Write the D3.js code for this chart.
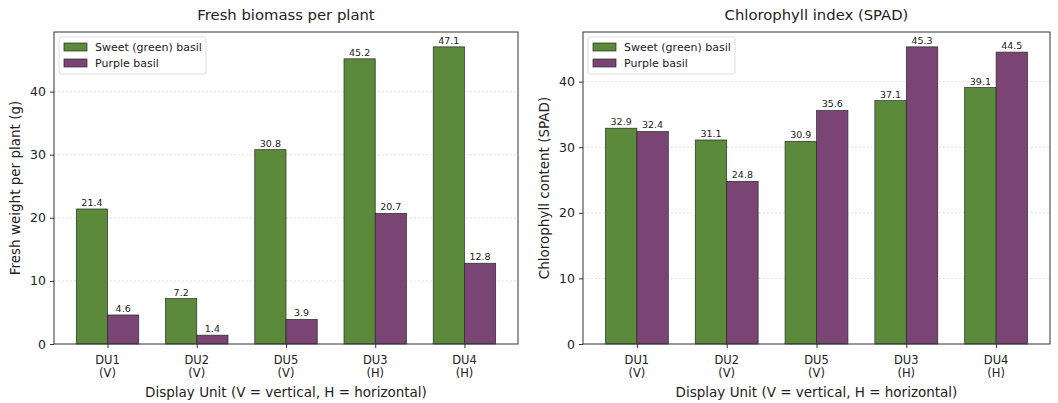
<!DOCTYPE html>
<html>
<head>
<script src="https://d3js.org/d3.v7.min.js"></script>
<style>
  body { margin: 0; background: #fff; }
  text { font-family: "DejaVu Sans", sans-serif; fill: #222; }
</style>
</head>
<body>
<script>
// categories and series
var units = ["DU1", "DU2", "DU5", "DU3", "DU4"];
var orient = ["(V)", "(V)", "(V)", "(H)", "(H)"];
var seriesNames = ["Sweet (green) basil", "Purple basil"];
var seriesColors = ["#5a8a3a", "#7a4474"];

var biomassGreen = [21.4, 7.2, 30.8, 45.2, 47.1];
var biomassPurple = [4.6, 1.4, 3.9, 20.7, 12.8];
var spadGreen = [32.9, 31.1, 30.9, 37.1, 39.1];
var spadPurple = [32.4, 24.8, 35.6, 45.3, 44.5];

var biomassTicks = [0, 10, 20, 30, 40];
var spadTicks = [0, 10, 20, 30, 40];

var width = 1058, height = 403;
var svg = d3.select("body").append("svg").attr("width", width).attr("height", height);

function panel(opts) {
  var left = opts.left, right = opts.right, top = 32, bottom = 344;
  var g = svg.append("g");

  var x = d3.scaleLinear().domain([-0.6, 4.6]).range([left, right]);
  var ymax = d3.max(opts.a.concat(opts.b)) * 1.05;
  var y = d3.scaleLinear().domain([0, ymax]).range([bottom, top]);
  var bw = 0.35;

  // grid
  g.selectAll(".grid").data(opts.ticks.filter(function(d) { return d > 0; }))
    .enter().append("line")
    .attr("x1", left).attr("x2", right)
    .attr("y1", function(d) { return y(d); }).attr("y2", function(d) { return y(d); })
    .attr("stroke", "#ccc").attr("stroke-width", 0.8).attr("stroke-dasharray", "1.5,2.5");

  [opts.a, opts.b].forEach(function(vals, s) {
    var off = s == 0 ? -bw : 0;
    g.selectAll(".bar" + s).data(vals).enter().append("rect")
      .attr("x", function(d, i) { return x(i + off); })
      .attr("width", x(bw) - x(0))
      .attr("y", function(d) { return y(d); })
      .attr("height", function(d) { return bottom - y(d); })
      .attr("fill", seriesColors[s])
      .attr("stroke", "#2a2a2a").attr("stroke-width", 0.7);

    g.selectAll(".lab" + s).data(vals).enter().append("text")
      .attr("x", function(d, i) { return x(i + off + bw / 2); })
      .attr("y", function(d) { return y(d) - 3; })
      .attr("text-anchor", "middle").attr("font-size", 9.5)
      .text(function(d) { return d.toFixed(1); });
  });

  // frame
  g.append("rect").attr("x", left).attr("y", top)
    .attr("width", right - left).attr("height", bottom - top)
    .attr("fill", "none").attr("stroke", "#333").attr("stroke-width", 1);

  // y axis
  var yAxis = g.append("g").attr("transform", "translate(" + left + ",0)")
    .call(d3.axisLeft(y).tickValues(opts.ticks).tickSize(4).tickPadding(4).tickFormat(d3.format("d")));
  yAxis.select(".domain").remove();
  yAxis.selectAll("line").attr("stroke", "#333");
  yAxis.selectAll("text").attr("font-size", 12.5).attr("font-family", "DejaVu Sans").attr("fill", "#222");

  // x axis
  var xAxis = g.append("g").attr("transform", "translate(0," + bottom + ")")
    .call(d3.axisBottom(x).tickValues(d3.range(units.length)).tickSize(4).tickFormat(""));
  xAxis.select(".domain").remove();
  xAxis.selectAll("line").attr("stroke", "#333");
  units.forEach(function(u, i) {
    var t = g.append("text").attr("x", x(i)).attr("y", bottom + 20)
      .attr("text-anchor", "middle").attr("font-size", 11.5);
    t.append("tspan").attr("x", x(i)).text(u);
    t.append("tspan").attr("x", x(i)).attr("dy", 12.5).text(orient[i]);
  });

  g.append("text").attr("x", (left + right) / 2).attr("y", 397)
    .attr("text-anchor", "middle").attr("font-size", 13.5)
    .text("Display Unit (V = vertical, H = horizontal)");

  g.append("text")
    .attr("transform", "translate(" + (left - 34) + "," + ((top + bottom) / 2) + ") rotate(-90)")
    .attr("text-anchor", "middle").attr("font-size", 13.5).text(opts.ylabel);

  g.append("text").attr("x", (left + right) / 2).attr("y", 20)
    .attr("text-anchor", "middle").attr("font-size", 14.8).text(opts.title);

  // legend
  var lg = g.append("g").attr("transform", "translate(" + (left + 5) + "," + (top + 5) + ")");
  lg.append("rect").attr("width", 147).attr("height", 37).attr("rx", 2)
    .attr("fill", "#fff").attr("fill-opacity", 0.85).attr("stroke", "#ddd");
  seriesNames.forEach(function(n, s) {
    lg.append("rect").attr("x", 5).attr("y", 6 + s * 16).attr("width", 23).attr("height", 8)
      .attr("fill", seriesColors[s]).attr("stroke", "#2a2a2a").attr("stroke-width", 0.7);
    lg.append("text").attr("x", 36).attr("y", 14 + s * 16).attr("font-size", 11).text(n);
  });
}

panel({ left: 54, right: 518, a: biomassGreen, b: biomassPurple, ticks: biomassTicks,
  title: "Fresh biomass per plant", ylabel: "Fresh weight per plant (g)" });
panel({ left: 583, right: 1050, a: spadGreen, b: spadPurple, ticks: spadTicks,
  title: "Chlorophyll index (SPAD)", ylabel: "Chlorophyll content (SPAD)" });
</script>
</body>
</html>
